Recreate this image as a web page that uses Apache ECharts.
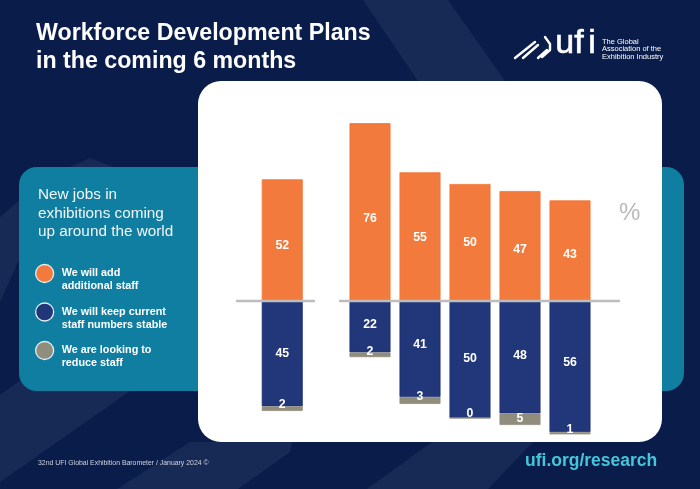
<!DOCTYPE html>
<html><head><meta charset="utf-8">
<style>html,body{margin:0;padding:0;background:#0a1d4a}#c{width:700px;height:489px}</style>
<script src="https://cdn.jsdelivr.net/npm/echarts@6/dist/echarts.min.js"></script>
</head><body><div id="c"></div>
<script>
const categories = ['Middle East -\nAfrica','Asia/\nPacific','North\nAmerica','Central\nand South\nAmerica','Europe'];
const addStaff = [76,55,50,47,43];
const keepStaff = [22,41,50,48,56];
const reduceStaff = [2,3,0,5,1];
const worldCategory = ['World'];
const worldAdd = [52];
const worldKeep = [45];
const worldReduce = [2];
const seriesNames = ['We will add\nadditional staff','We will keep current\nstaff numbers stable','We are looking to\nreduce staff'];
const FONT = '"Liberation Sans",Arial,sans-serif';
const colors = ['#f27a3c','#22367a','#908d7d'];
const borders = ['#f27433','#1c3078','#908d7d'];

function bars(idx, gridIdx, values, stack, shifts){
  return {
    type:'bar', name:seriesNames[idx], xAxisIndex:gridIdx, yAxisIndex:gridIdx, stack,
    barWidth:41, z:2, encode:{x:1,y:0},
    itemStyle:{color:colors[idx], borderColor:borders[idx], borderWidth:0.8},
    data:values.map((v,i)=>({value:[v*(idx===0?1:-1),i],label:{offset:[0,shifts[i]]}})),
    label:{show:true,position:'inside',color:'#fff',fontFamily:FONT,fontWeight:'bold',fontSize:12.3,
      formatter:p=>String(Math.abs(p.value[0]))}
  };
}
function nameLabels(gridIdx, names, values){
  return {
    type:'line', name:'regions'+gridIdx, xAxisIndex:gridIdx, yAxisIndex:gridIdx, z:3,
    symbol:'none', lineStyle:{opacity:0}, silent:true,
    data:values.map((v,i)=>[i,v]),
    label:{show:true,position:'top',distance:4,color:'#0f6f93',fontFamily:FONT,fontWeight:'bold',
      fontSize:10.5,lineHeight:11.7,align:'center',formatter:p=>names[p.dataIndex]}
  };
}
const yBase = {type:'value',min:-60,max:80,show:false};
const xBase = {type:'value',z:5,axisLine:{show:true,onZero:true,lineStyle:{color:'#bdbdbd',width:2.4}},axisTick:{show:false},axisLabel:{show:false},splitLine:{show:false}};
const line = (p,w)=>({type:'polyline',z:3,shape:{points:p},style:{stroke:'#fff',lineWidth:w,fill:null,lineCap:'round',lineJoin:'round'}});
const letter = (t,x)=>({type:'text',z:3,left:x,top:26,style:{text:t,fill:'#fff',stroke:'#fff',lineWidth:0.6,font:'34px "Liberation Sans Narrow",'+FONT}});
const option = {
  animation:false,
  backgroundColor:'#0a1d4a',
  grid:[
    {left:237,width:77,top:113.8,height:327.6},
    {left:340,width:279,top:113.8,height:327.6}
  ],
  xAxis:[
    Object.assign({gridIndex:0,min:-0.905,max:0.635},xBase),
    Object.assign({gridIndex:1,min:-0.6,max:4.98},xBase)
  ],
  yAxis:[Object.assign({gridIndex:0},yBase),Object.assign({gridIndex:1},yBase)],
  legend:{
    left:30,top:249.6,orient:'vertical',itemWidth:18,itemHeight:18,itemGap:0.7,
    data:seriesNames.map(n=>({name:n,icon:'circle'})),
    formatter:n=>'\n'+n,
    itemStyle:{borderColor:'#e8eef2',borderWidth:1.3},
    selectedMode:false,
    textStyle:{color:'#fff',fontFamily:FONT,fontWeight:'bold',fontSize:10.8,lineHeight:12.6,padding:[0,0,0,3]}
  },
  series:[
    bars(0,0,worldAdd,'w',[5]),
    bars(1,0,worldKeep,'w',[0]),
    bars(2,0,worldReduce,'w',[-3.7]),
    bars(0,1,addStaff,'r',[7,1,0.5,4,4]),
    bars(1,1,keepStaff,'r',[-2,-4,-1,-1.5,-3.5]),
    bars(2,1,reduceStaff,'r',[-3.5,-4,-4,-1,-3.5]),
    nameLabels(0,worldCategory,worldAdd),
    nameLabels(1,categories,addStaff)
  ],
  graphic:[
    {type:'polygon',z:0,shape:{points:[[363,0],[448,0],[505,81],[418,81]]},style:{fill:'#172a56'}},
    {type:'polygon',z:0,shape:{points:[[0,217],[20,200],[70,167],[90,158],[113,167],[19,260],[0,302]]},style:{fill:'#172a56'}},
    {type:'polygon',z:0,shape:{points:[[0,395],[40,366],[130,391],[0,482]]},style:{fill:'#172a56'}},
    {type:'polygon',z:0,shape:{points:[[117,489],[190,442],[292,442],[290,452],[238,489]]},style:{fill:'#172a56'}},
    {type:'polygon',z:0,shape:{points:[[367,489],[432,442],[533,442],[488,489]]},style:{fill:'#172a56'}},
    {type:'rect',z:1,shape:{x:19,y:167,width:665,height:224,r:18},style:{fill:'#107ea1'}},
    {type:'rect',z:1,shape:{x:198,y:81,width:464,height:361,r:23},style:{fill:'#ffffff'}},
    {type:'text',z:3,left:36,top:20,style:{text:'Workforce Development Plans\nin the coming 6 months',fill:'#fff',font:'bold 23.2px '+FONT,lineHeight:28}},
    {type:'text',z:3,left:38,top:186,style:{text:'New jobs in\nexhibitions coming\nup around the world',fill:'#f2f6f8',font:'15.3px '+FONT,lineHeight:18.4}},
    {type:'text',z:3,left:38,top:460,style:{text:'32nd UFI Global Exhibition Barometer / January 2024 ©',fill:'#cfd4df',font:'6.9px '+FONT}},
    {type:'text',z:3,left:525,top:452.5,style:{text:'ufi.org/research',fill:'#45c5da',font:'bold 17.5px '+FONT}},
    {type:'text',z:3,left:619,top:201,style:{text:'%',fill:'#b9b9b9',font:'24px '+FONT}},
    letter('u',555), letter('f',574), letter('i',588),
    {type:'text',z:3,left:602,top:38,style:{text:'The Global\nAssociation of the\nExhibition Industry',fill:'#fff',font:'7.5px '+FONT,lineHeight:7.3}},
    line([[515,58],[535,42]],2.4), line([[523,58],[538,45]],2.4), line([[538,58],[547,50]],2.4),
    line([[545,37],[550,44],[550,50],[542,57]],2.4)
  ]
};
const chart = echarts.init(document.getElementById('c'),null,{width:700,height:489});
chart.setOption(option);
</script></body></html>
